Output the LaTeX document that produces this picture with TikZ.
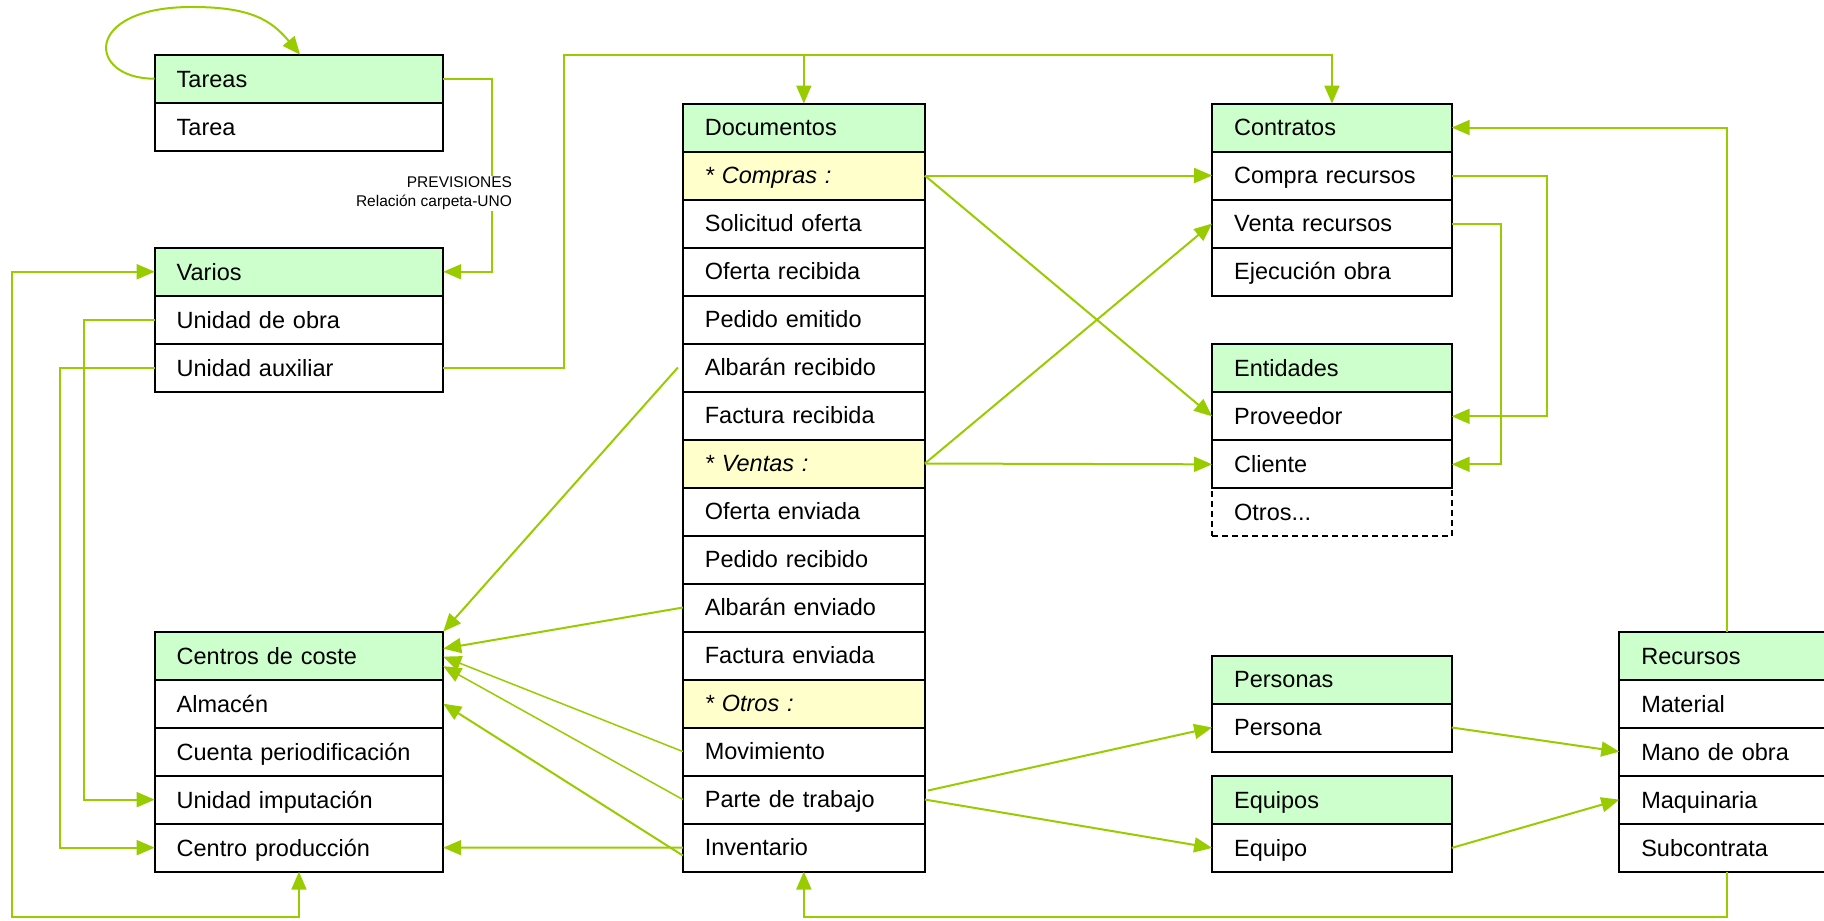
\documentclass[tikz,border=0pt]{standalone}
\usepackage{fontspec}
\setmainfont{Liberation Sans}
\usetikzlibrary{arrows.meta,calc}
\definecolor{lgreen}{RGB}{153,204,0}
\definecolor{hdrgreen}{RGB}{204,255,204}
\definecolor{secyellow}{RGB}{255,255,204}
\begin{document}
\begin{tikzpicture}[x=1.16327pt,y=-1.16327pt,
  cell/.style={draw=black, line width=2pt, rectangle, outer sep=0pt,
    minimum height=48pt, inner xsep=22pt, inner ysep=0pt,
    text height=20pt, text depth=3.2pt, align=left,
    font=\fontsize{23.5}{28}\selectfont},
  wL/.style={text width=244.5pt},
  wD/.style={text width=198pt},
  wR/.style={text width=195.6pt},
  hdr/.style={fill=hdrgreen},
  sec/.style={fill=secyellow, font=\fontsize{23.5}{28}\selectfont\itshape},
  dsh/.style={dash pattern=on 6pt off 4pt},
  nx/.style={anchor=north, at={(#1.south)}},
  first/.style={anchor=north west},
  link/.style={draw=lgreen, line width=2pt, -{Triangle[length=18pt,width=15pt]}},
  thinlink/.style={link, line width=1.5pt},
  bilink/.style={draw=lgreen, line width=2pt, {Triangle[length=18pt,width=15pt]}-{Triangle[length=18pt,width=15pt]}},
  lbl/.style={fill=white, align=right, inner xsep=2pt, inner ysep=1pt,
    font=\fontsize{15.5}{19}\selectfont}
]
\useasboundingbox (0,0) rectangle (1568,790.9);
\clip (0,0) rectangle (1568,790.9);

% ---------- Tareas ----------
\node[cell,wL,hdr,first] (tareas) at (133,47) {Tareas};
\node[cell,wL,nx=tareas] (tarea) {Tarea};

% ---------- Varios ----------
\node[cell,wL,hdr,first] (varios) at (133,213) {Varios};
\node[cell,wL,nx=varios] (uobra) {Unidad de obra};
\node[cell,wL,nx=uobra] (uaux) {Unidad auxiliar};

% ---------- Centros de coste ----------
\node[cell,wL,hdr,first] (ccoste) at (133,543) {Centros de coste};
\node[cell,wL,nx=ccoste] (almacen) {Almacén};
\node[cell,wL,nx=almacen] (cperiod) {Cuenta periodificación};
\node[cell,wL,nx=cperiod] (uimp) {Unidad imputación};
\node[cell,wL,nx=uimp] (cprod) {Centro producción};

% ---------- Documentos ----------
\node[cell,wD,hdr,first] (docs) at (587,89) {Documentos};
\node[cell,wD,sec,nx=docs] (compras) {* Compras :};
\node[cell,wD,nx=compras] (solof) {Solicitud oferta};
\node[cell,wD,nx=solof] (ofrec) {Oferta recibida};
\node[cell,wD,nx=ofrec] (pedem) {Pedido emitido};
\node[cell,wD,nx=pedem] (albrec) {Albarán recibido};
\node[cell,wD,nx=albrec] (facrec) {Factura recibida};
\node[cell,wD,sec,nx=facrec] (ventas) {* Ventas :};
\node[cell,wD,nx=ventas] (ofenv) {Oferta enviada};
\node[cell,wD,nx=ofenv] (pedrec) {Pedido recibido};
\node[cell,wD,nx=pedrec] (albenv) {Albarán enviado};
\node[cell,wD,nx=albenv] (facenv) {Factura enviada};
\node[cell,wD,sec,nx=facenv] (otros) {* Otros :};
\node[cell,wD,nx=otros] (movim) {Movimiento};
\node[cell,wD,nx=movim] (parte) {Parte de trabajo};
\node[cell,wD,nx=parte] (inv) {Inventario};

% ---------- Contratos ----------
\node[cell,wR,hdr,first] (contr) at (1042,89) {Contratos};
\node[cell,wR,nx=contr] (comprarec) {Compra recursos};
\node[cell,wR,nx=comprarec] (ventarec) {Venta recursos};
\node[cell,wR,nx=ventarec] (ejec) {Ejecución obra};

% ---------- Entidades ----------
\node[cell,wR,hdr,first] (entid) at (1042,296) {Entidades};
\node[cell,wR,nx=entid] (prov) {Proveedor};
\node[cell,wR,nx=prov] (cliente) {Cliente};
\node[cell,wR,dsh,nx=cliente] (otrosent) {Otros...};

% ---------- Personas ----------
\node[cell,wR,hdr,first] (personas) at (1042,563.5) {Personas};
\node[cell,wR,nx=personas] (persona) {Persona};

% ---------- Equipos ----------
\node[cell,wR,hdr,first] (equipos) at (1042,667) {Equipos};
\node[cell,wR,nx=equipos] (equipo) {Equipo};

% ---------- Recursos ----------
\node[cell,wR,hdr,first] (recursos) at (1392,543) {Recursos};
\node[cell,wR,nx=recursos] (material) {Material};
\node[cell,wR,nx=material] (manoobra) {Mano de obra};
\node[cell,wR,nx=manoobra] (maquinaria) {Maquinaria};
\node[cell,wR,nx=maquinaria] (subc) {Subcontrata};

% ---------- channel coordinates ----------
\coordinate (cbl) at (10,788);
\coordinate (c72) at (72,0);
\coordinate (c52) at (52,0);
\coordinate (c423) at (423,0);
\coordinate (ctop) at (485,47);
\coordinate (c1330) at (1330,0);
\coordinate (c1290) at (1290,0);
\coordinate (crx) at (1485,0);
\coordinate (cbr) at (1485,788);
\coordinate (tarNE) at ($(tareas.north west)+(125,0)$);

% ---------- connectors ----------
% Tareas self loop
\draw[link] (tareas.west) .. controls (75,68) and (70,6) .. (165,6)
  .. controls (215,6) and (233,17) .. (tarNE);

% Tareas -> Varios (PREVISIONES)
\draw[link] (tareas.east) -- (tareas.east -| c423) |- (varios.east);
\node[lbl, anchor=east] (prevlbl) at (442,166.5) {PREVISIONES\\Relación carpeta-UNO};

% Centro produccion <-> Varios
\draw[bilink] (cprod.south) |- (cbl) |- (varios.west);

% Unidad de obra -> Unidad imputacion
\draw[link] (uobra.west) -- (uobra.west -| c72) |- (uimp.west);
% Unidad auxiliar -> Centro produccion
\draw[link] (uaux.west) -- (uaux.west -| c52) |- (cprod.west);

% Unidad auxiliar -> Contratos / Documentos
\draw[link] (uaux.east) -| (ctop) -| (contr.north);
\draw[link] (docs.north |- ctop) -- (docs.north);

% Compras / Ventas
\draw[link] (compras.east) -- (comprarec.west);
\draw[link] (compras.east) -- (prov.west);
\draw[link] (ventas.east) -- (cliente.west);
\draw[link] (ventas.east) -- (ventarec.west);

% Contratos -> Entidades
\draw[link] (comprarec.east) -- (comprarec.east -| c1330) |- (prov.east);
\draw[link] (ventarec.east) -- (ventarec.east -| c1290) |- (cliente.east);

% Documentos -> Centros de coste
\draw[link] ([xshift=-5pt]albrec.west) -- (ccoste.north east);
\draw[link] (albenv.west) -- ([yshift=7pt]ccoste.east);
\draw[thinlink] (movim.west) -- ([yshift=-1pt]ccoste.east);
\draw[thinlink] (parte.west) -- ([yshift=-10.5pt]ccoste.east);
\draw[link] ([yshift=-8pt]inv.west) -- (almacen.east);
\draw[link] (inv.west) -- (cprod.east);

% Parte de trabajo -> Personas / Equipos
\draw[link] ([xshift=3pt,yshift=9pt]parte.east) -- (persona.west);
\draw[link] (parte.east) -- (equipo.west);

% Personas / Equipos -> Recursos
\draw[link] (persona.east) -- (manoobra.west);
\draw[link] (equipo.east) -- (maquinaria.west);

% Recursos -> Contratos
\draw[link] (recursos.north -| crx) |- (contr.east);
% Recursos -> Inventario
\draw[link] (subc.south -| crx) -- (cbr) -| (inv.south);
\end{tikzpicture}
\end{document}
